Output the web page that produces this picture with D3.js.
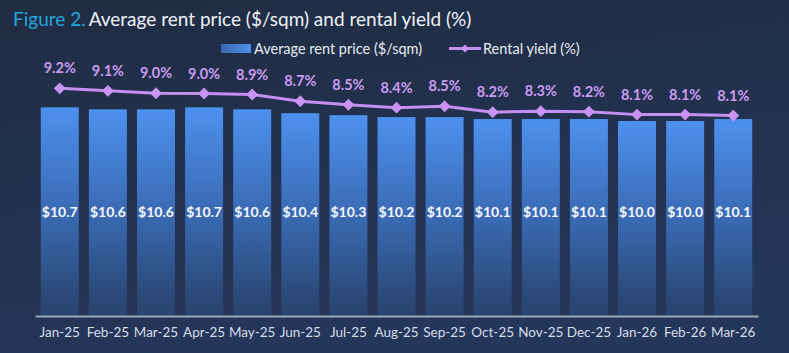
<!DOCTYPE html>
<html>
<head>
<meta charset="utf-8">
<script src="https://cdn.jsdelivr.net/npm/d3@7"></script>
<style>
  body { margin: 0; background: #222f47; }
  svg { display: block; font-family: Lato, "Open Sans", sans-serif; }
</style>
</head>
<body>
<div id="chart"></div>
<script>
// data
const months = ["Jan-25", "Feb-25", "Mar-25", "Apr-25", "May-25", "Jun-25", "Jul-25", "Aug-25",
                "Sep-25", "Oct-25", "Nov-25", "Dec-25", "Jan-26", "Feb-26", "Mar-26"];
const rentPrice = [10.7, 10.6, 10.6, 10.7, 10.6, 10.4, 10.3, 10.2, 10.2, 10.1, 10.1, 10.1, 10.0, 10.0, 10.1];
const rentalYield = [9.18, 9.08, 8.98, 8.97, 8.93, 8.66, 8.52, 8.40, 8.46, 8.22, 8.26, 8.24, 8.12, 8.12, 8.08];

const width = 789, height = 353;
const margin = {left: 35, right: 31, top: 82, bottom: 37};

const svg = d3.select("#chart").append("svg")
  .attr("width", width)
  .attr("height", height);

const defs = svg.append("defs");
let bg = defs.append("linearGradient").attr("id", "bgGrad")
  .attr("x1", 0).attr("y1", 0).attr("x2", 0.3).attr("y2", 1);
bg.append("stop").attr("offset", "0%").attr("stop-color", "#202c43");
bg.append("stop").attr("offset", "100%").attr("stop-color", "#24365a");

let barGrad = defs.append("linearGradient").attr("id", "barGrad")
  .attr("x1", 0).attr("y1", 0).attr("x2", 0).attr("y2", 1);
barGrad.append("stop").attr("offset", "0%").attr("stop-color", "#4d91ee");
barGrad.append("stop").attr("offset", "50%").attr("stop-color", "#3a6ab3");
barGrad.append("stop").attr("offset", "100%").attr("stop-color", "#28426b");

let legGrad = defs.append("linearGradient").attr("id", "legGrad")
  .attr("x1", 0).attr("y1", 0).attr("x2", 1).attr("y2", 0);
legGrad.append("stop").attr("offset", "0%").attr("stop-color", "#3a68ad");
legGrad.append("stop").attr("offset", "100%").attr("stop-color", "#4d8fe8");

svg.append("rect").attr("width", width).attr("height", height).attr("fill", "url(#bgGrad)");

// title
let title = svg.append("text").attr("x", 13).attr("y", 26).attr("font-size", 19);
title.append("tspan").attr("fill", "#22a8dc").text("Figure 2.");
title.append("tspan").attr("fill", "#eef2f7").attr("dx", 3).text("Average rent price ($/sqm) and rental yield (%)");

const xScale = d3.scaleBand()
  .domain(months)
  .range([margin.left, width - margin.right])
  .paddingInner(0.21)
  .paddingOuter(0.12);

const yScale = d3.scaleLinear()
  .domain([0, 12])
  .range([height - margin.bottom, margin.top]);

const y2Scale = d3.scaleLinear()
  .domain([0, 10])
  .range([height - margin.bottom, 68]);

// bars
svg.selectAll(".bar").data(rentPrice).enter()
  .append("rect")
  .attr("class", "bar")
  .attr("x", (d, i) => xScale(months[i]))
  .attr("y", d => yScale(d))
  .attr("width", xScale.bandwidth())
  .attr("height", d => yScale(0) - yScale(d))
  .attr("fill", "url(#barGrad)");

svg.selectAll(".barLabel").data(rentPrice).enter()
  .append("text")
  .attr("class", "barLabel")
  .attr("x", (d, i) => xScale(months[i]) + xScale.bandwidth() / 2)
  .attr("y", 217)
  .attr("text-anchor", "middle")
  .attr("font-size", 14)
  .attr("font-weight", "bold")
  .attr("fill", "#f4f7fb")
  .text(d => "$" + d.toFixed(1));

// x axis
let xAxis = d3.axisBottom(xScale).tickSize(0).tickPadding(11);
let xg = svg.append("g")
  .attr("transform", "translate(0," + (height - margin.bottom) + ")")
  .call(xAxis);
xg.select(".domain").attr("stroke", "#9aa7ba").attr("stroke-width", 2);
xg.selectAll("text").attr("fill", "#d6dde8").attr("font-size", 13.5)
  .attr("font-family", "Lato, sans-serif");

// yield line
const cx = (d, i) => xScale(months[i]) + xScale.bandwidth() / 2;
let line = d3.line().x(cx).y(d => y2Scale(d));
svg.append("path").datum(rentalYield)
  .attr("d", line)
  .attr("fill", "none")
  .attr("stroke", "#c48ff0")
  .attr("stroke-width", 3);

svg.selectAll(".dot").data(rentalYield).enter()
  .append("path")
  .attr("class", "dot")
  .attr("d", d3.symbol(d3.symbolDiamond2, 90))
  .attr("transform", (d, i) => "translate(" + cx(d, i) + "," + y2Scale(d) + ")")
  .attr("fill", "#c893f2");

svg.selectAll(".yLabel").data(rentalYield).enter()
  .append("text")
  .attr("class", "yLabel")
  .attr("x", cx)
  .attr("y", d => y2Scale(d) - 15)
  .attr("text-anchor", "middle")
  .attr("font-size", 14.5)
  .attr("font-weight", "bold")
  .attr("fill", "#c99cf0")
  .text(d => d.toFixed(1) + "%");

// legend
let leg = svg.append("g");
leg.append("rect").attr("x", 221).attr("y", 44).attr("width", 30).attr("height", 9).attr("fill", "url(#legGrad)");
leg.append("text").attr("x", 254).attr("y", 53.5).attr("font-size", 14.5).attr("fill", "#e6ebf2")
  .text("Average rent price ($/sqm)");
leg.append("line").attr("x1", 449).attr("x2", 481).attr("y1", 48.5).attr("y2", 48.5)
  .attr("stroke", "#c48ff0").attr("stroke-width", 3);
leg.append("path").attr("d", d3.symbol(d3.symbolDiamond2, 40))
  .attr("transform", "translate(465,48.5)").attr("fill", "#c893f2");
leg.append("text").attr("x", 483).attr("y", 53.5).attr("font-size", 14.5).attr("fill", "#e6ebf2")
  .text("Rental yield (%)");
</script>
</body>
</html>
